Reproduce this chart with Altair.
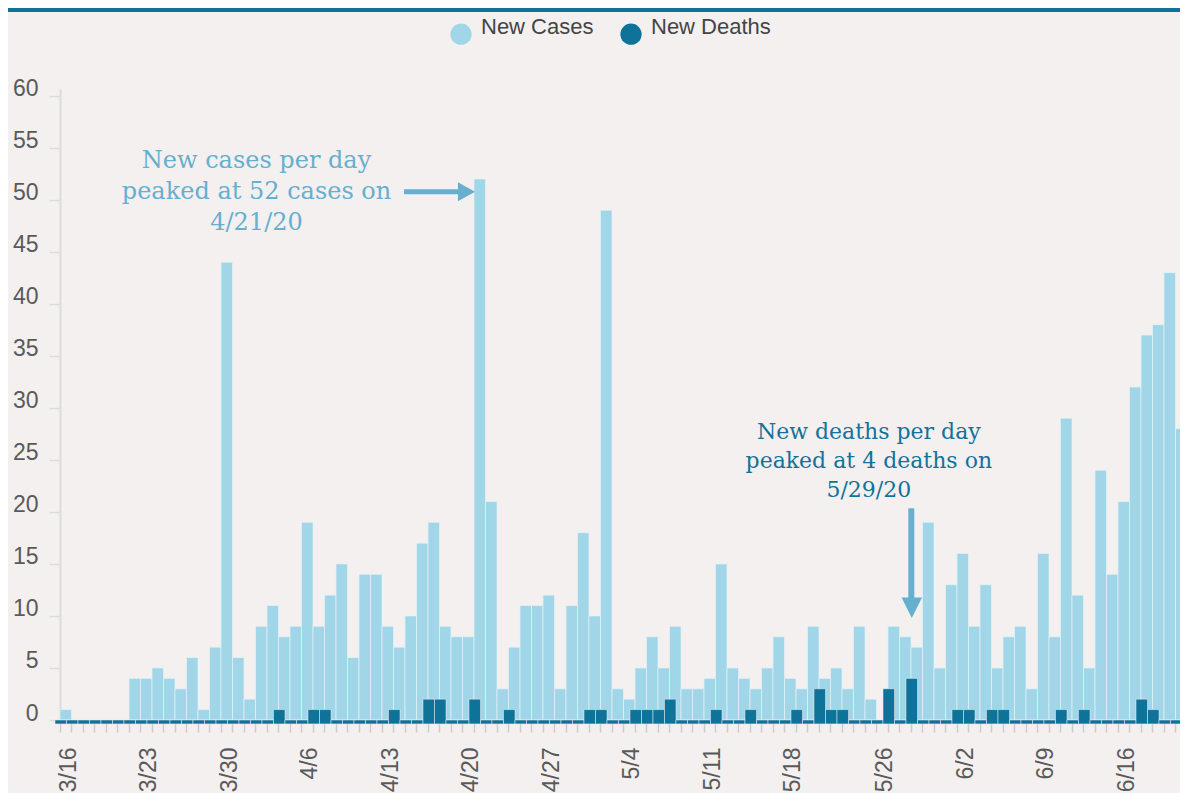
import json
import altair as alt
import pandas as pd

# ---- data ----
dates = [d.strftime("%-m/%-d") for d in pd.date_range("2020-03-16", "2020-06-21", freq="D")]

new_cases = [1, 0, 0, 0, 0, 0, 4, 4, 5, 4, 3, 6, 1, 7, 44, 6, 2, 9, 11, 8,
             9, 19, 9, 12, 15, 6, 14, 14, 9, 7, 10, 17, 19, 9, 8, 8, 52, 21, 3, 7,
             11, 11, 12, 3, 11, 18, 10, 49, 3, 2, 5, 8, 5, 9, 3, 3, 4, 15, 5, 4,
             3, 5, 8, 4, 3, 9, 4, 5, 3, 9, 2, 0, 9, 8, 7, 19, 5, 13, 16, 9,
             13, 5, 8, 9, 3, 16, 8, 29, 12, 5, 24, 14, 21, 32, 37, 38, 43, 28]

new_deaths = [0, 0, 0, 0, 0, 0, 0, 0, 0, 0, 0, 0, 0, 0, 0, 0, 0, 0, 0, 1,
              0, 0, 1, 1, 0, 0, 0, 0, 0, 1, 0, 0, 2, 2, 0, 0, 2, 0, 0, 1,
              0, 0, 0, 0, 0, 0, 1, 1, 0, 0, 1, 1, 1, 2, 0, 0, 0, 1, 0, 0,
              1, 0, 0, 0, 1, 0, 3, 1, 1, 0, 0, 0, 3, 0, 4, 0, 0, 0, 1, 1,
              0, 1, 1, 0, 0, 0, 0, 1, 0, 1, 0, 0, 0, 0, 2, 1, 0, 0]

tick_labels = ["3/16", "3/23", "3/30", "4/6", "4/13", "4/20", "4/27", "5/4",
               "5/11", "5/18", "5/26", "6/2", "6/9", "6/16"]
y_ticks = list(range(0, 61, 5))

series_names = ["New Cases", "New Deaths"]
series_colors = ["#a1d6e8", "#0e7299"]

ann_cases = ["New cases per day", "peaked at 52 cases on", "4/21/20"]
ann_deaths = ["New deaths per day", "peaked at 4 deaths on", "5/29/20"]

df = pd.DataFrame({"date": dates, "cases": new_cases, "deaths": new_deaths})

BG = "#f3f0ef"
STEP = 11.5
PLOT_W = 1112
PLOT_H = 631

color_scale = alt.Scale(domain=series_names, range=series_colors)

x_enc = alt.X(
    "date:O",
    sort=dates,
    scale=alt.Scale(range=[0, STEP * len(dates)], paddingInner=0, paddingOuter=0),
    axis=alt.Axis(
        title=None,
        domain=False,
        bandPosition=0,
        labelAngle=270,
        labelOffset=3,
        labelExpr="indexof(" + json.dumps(tick_labels) + ", datum.value) >= 0 ? datum.value : ''",
        labelFont="Liberation Sans",
        labelFontSize=23,
        labelColor="#5a5a5a",
        labelPadding=15,
        tickSize=12,
        tickColor="#cccccc",
        tickWidth=1.5,
        labelOverlap=False,
    ),
)

y_scale = alt.Scale(domain=[0, 60.65], nice=False, zero=True)
y_axis = alt.Axis(
    title=None,
    values=y_ticks,
    grid=False,
    domainColor="#dcdcdc",
    domainWidth=2,
    tickColor="#dcdcdc",
    tickWidth=1.5,
    tickSize=11,
    labelFont="Liberation Sans",
    labelFontSize=23,
    labelColor="#5a5a5a",
    labelBaseline="alphabetic",
    labelPadding=11,
)

cases_bars = alt.Chart(df).transform_calculate(
    series="'New Cases'"
).mark_bar(
    stroke="#e4f2f7", strokeWidth=0.7
).encode(
    x=x_enc,
    y=alt.Y("cases:Q", scale=y_scale, axis=y_axis),
    color=alt.Color("series:N", scale=color_scale, legend=alt.Legend(title=None)),
)

# deaths bars hang ~4px below the baseline (zero days show as a thin strip)
deaths_bars = alt.Chart(df).transform_calculate(
    series="'New Deaths'", base="-0.38"
).mark_bar(
    stroke=BG, strokeWidth=0.5, xOffset=-5
).encode(
    x=alt.X("date:O", sort=dates),
    y=alt.Y("deaths:Q"),
    y2=alt.Y2("base:Q"),
    color=alt.Color("series:N", scale=color_scale),
)

one = pd.DataFrame({"k": [0]})

ann1 = alt.Chart(one).mark_text(
    text=ann_cases, font="DejaVu Serif", fontSize=24, lineHeight=31,
    color="#67afcf", align="center", baseline="alphabetic"
).encode(x=alt.value(196.5), y=alt.value(78.7))

ann2 = alt.Chart(one).mark_text(
    text=ann_deaths, font="DejaVu Serif", fontSize=22, lineHeight=29,
    color="#12729c", align="center", baseline="alphabetic"
).encode(x=alt.value(808.8), y=alt.value(350))

arrow_color = "#67afcf"
arrow1_shaft = alt.Chart(one).mark_rule(color=arrow_color, strokeWidth=5).encode(
    x=alt.value(344), x2=alt.value(401), y=alt.value(102.8))
arrow1_head = alt.Chart(one).mark_point(
    shape="M-0.9,-1L0.9,0L-0.9,1Z", filled=True, opacity=1, size=361,
    color=arrow_color, strokeWidth=0
).encode(x=alt.value(406.5), y=alt.value(102.8))

arrow2_shaft = alt.Chart(one).mark_rule(color=arrow_color, strokeWidth=6).encode(
    x=alt.value(851.3), y=alt.value(419.3), y2=alt.value(510))
arrow2_head = alt.Chart(one).mark_point(
    shape="M-1,-1L1,-1L0,1Z", filled=True, opacity=1, size=420,
    color=arrow_color, strokeWidth=0
).encode(x=alt.value(851.8), y=alt.value(518.8))

top_band = alt.Chart(one).mark_rect(color="#0e7299").encode(
    x=alt.value(-52), x2=alt.value(1120), y=alt.value(-81), y2=alt.value(-77))

chart = alt.layer(
    top_band, cases_bars, deaths_bars, ann1, ann2,
    arrow1_shaft, arrow1_head, arrow2_shaft, arrow2_head,
).properties(
    width=PLOT_W,
    height=PLOT_H,
    autosize=alt.AutoSizeParams(type="none"),
    padding={"left": 52, "top": 81, "right": 8, "bottom": 73},
).configure(
    background=BG,
).configure_view(
    stroke=None,
).configure_legend(
    orient="none",
    legendX=390,
    legendY=-66,
    direction="horizontal",
    symbolType="circle",
    symbolSize=452,
    symbolStrokeWidth=0,
    symbolOpacity=1,
    labelFont="Liberation Sans",
    labelFontSize=22,
    labelColor="#444444",
    labelBaseline="alphabetic",
    labelOffset=9,
    columnPadding=26,
    padding=0,
)

chart.save("out.html", embed_options={"renderer": "svg", "actions": False})
